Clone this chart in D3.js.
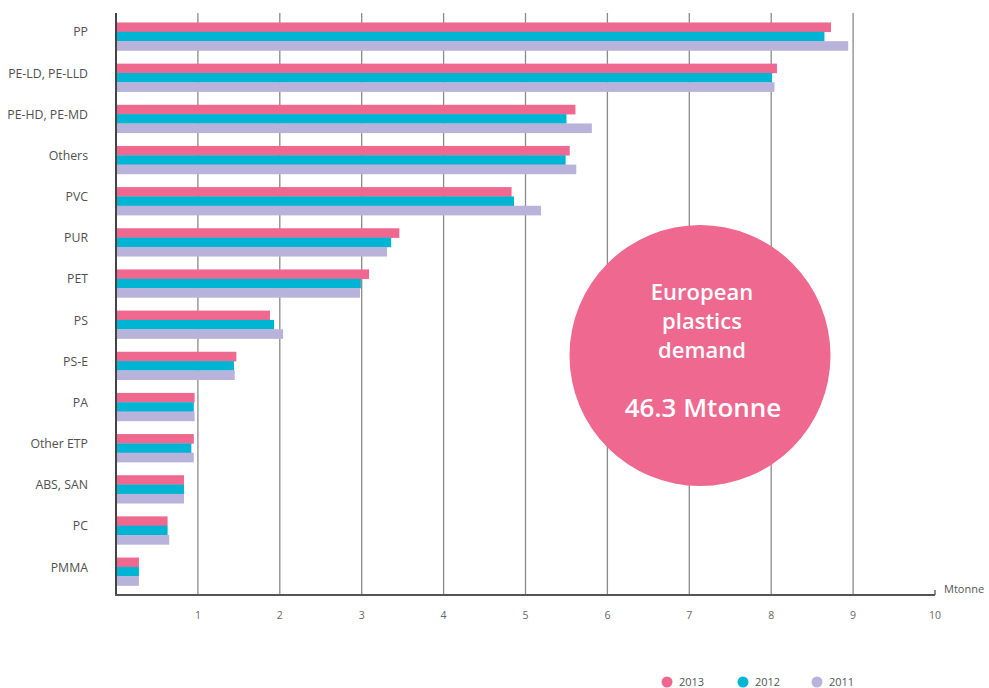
<!DOCTYPE html>
<html>
<head>
<meta charset="utf-8">
<script src="https://cdn.jsdelivr.net/npm/d3@7"></script>
<style>
  html, body { margin: 0; padding: 0; background: #fff; }
  svg { display: block; }
</style>
</head>
<body>
<svg id="chart" width="989" height="688"></svg>
<script>
// European plastics demand by polymer type (Mtonne)
const categories = ["PP", "PE-LD, PE-LLD", "PE-HD, PE-MD", "Others", "PVC", "PUR", "PET",
  "PS", "PS-E", "PA", "Other ETP", "ABS, SAN", "PC", "PMMA"];
const years = ["2013", "2012", "2011"];
const values2013 = [8.73, 8.07, 5.61, 5.54, 4.83, 3.46, 3.09, 1.88, 1.47, 0.96, 0.95, 0.83, 0.63, 0.28];
const values2012 = [8.65, 8.01, 5.50, 5.49, 4.86, 3.36, 2.99, 1.93, 1.44, 0.95, 0.92, 0.83, 0.63, 0.28];
const values2011 = [8.94, 8.04, 5.81, 5.62, 5.19, 3.31, 2.98, 2.04, 1.45, 0.96, 0.95, 0.83, 0.65, 0.28];
const xTicks = [1, 2, 3, 4, 5, 6, 7, 8, 9, 10];
const unitLabel = "Mtonne";
const totalLines = ["European", "plastics", "demand"];
const totalValue = "46.3 Mtonne";

const colors = { "2013": "#ef6890", "2012": "#00b4d3", "2011": "#b9b3dc" };
const series = { "2013": values2013, "2012": values2012, "2011": values2011 };

const svg = d3.select("#chart");
const font = "'Open Sans', 'DejaVu Sans', sans-serif";

const plotLeft = 116, plotRight = 935, plotTop = 13, plotBottom = 595;

const x = d3.scaleLinear().domain([0, 10]).range([plotLeft, plotRight]);
const y = d3.scaleBand().domain(categories).range([plotTop, plotBottom])
  .paddingInner(0.32).paddingOuter(0.23);
const yInner = d3.scaleBand().domain(years).range([0, y.bandwidth()]);

// vertical gridlines
svg.append("g").selectAll("line")
  .data(xTicks.filter(t => t < 10))
  .join("line")
  .attr("x1", d => x(d)).attr("x2", d => x(d))
  .attr("y1", plotTop).attr("y2", plotBottom)
  .attr("stroke", "#8a8a8a").attr("stroke-width", 1.3);

// bars
const groups = svg.append("g").selectAll("g")
  .data(categories)
  .join("g")
  .attr("transform", d => `translate(0,${y(d)})`);

groups.selectAll("rect")
  .data((c, i) => years.map(yr => ({ yr, v: series[yr][i] })))
  .join("rect")
  .attr("x", x(0))
  .attr("y", d => yInner(d.yr))
  .attr("width", d => x(d.v) - x(0))
  .attr("height", yInner.bandwidth() + 0.3)
  .attr("fill", d => colors[d.yr]);

// axis lines
svg.append("line")
  .attr("x1", plotLeft).attr("x2", plotLeft).attr("y1", plotTop).attr("y2", plotBottom + 1)
  .attr("stroke", "#444").attr("stroke-width", 2);
svg.append("line")
  .attr("x1", plotLeft - 1).attr("x2", plotRight).attr("y1", plotBottom).attr("y2", plotBottom)
  .attr("stroke", "#555").attr("stroke-width", 2);
svg.append("line")
  .attr("x1", plotRight).attr("x2", plotRight).attr("y1", plotBottom - 5).attr("y2", plotBottom)
  .attr("stroke", "#555").attr("stroke-width", 1.3);

// x tick labels
svg.append("g").selectAll("text")
  .data(xTicks)
  .join("text")
  .attr("x", d => x(d))
  .attr("y", 619)
  .attr("text-anchor", "middle")
  .attr("font-family", font)
  .attr("font-size", 10.5)
  .attr("fill", "#666")
  .text(d => d);

svg.append("text")
  .attr("x", 944).attr("y", 593)
  .attr("font-family", font).attr("font-size", 11)
  .attr("fill", "#555")
  .text(unitLabel);

// category labels
svg.append("g").selectAll("text")
  .data(categories)
  .join("text")
  .attr("x", 88)
  .attr("y", d => y(d) + y.bandwidth() / 2)
  .attr("text-anchor", "end")
  .attr("font-family", font)
  .attr("font-size", 12.3)
  .attr("fill", "#505050")
  .text(d => d);

// total demand bubble
const cx = 700, cy = 355.5, r = 130.5;
svg.append("circle")
  .attr("cx", cx).attr("cy", cy).attr("r", r)
  .attr("fill", colors["2013"]);

svg.append("g").selectAll("text")
  .data(totalLines)
  .join("text")
  .attr("x", cx + 2)
  .attr("y", (d, i) => 300 + i * 29)
  .attr("text-anchor", "middle")
  .attr("font-family", font)
  .attr("font-size", 22)
  .attr("font-weight", 600)
  .attr("fill", "#fff")
  .text(d => d);

svg.append("text")
  .attr("x", cx + 3).attr("y", 417)
  .attr("text-anchor", "middle")
  .attr("font-family", font)
  .attr("font-size", 26)
  .attr("font-weight", 600)
  .attr("fill", "#fff")
  .text(totalValue);

// legend
const legendX = [667, 743, 817];
const legend = svg.append("g").selectAll("g")
  .data(years)
  .join("g")
  .attr("transform", (d, i) => `translate(${legendX[i]},682)`);
legend.append("circle").attr("r", 5.5).attr("fill", d => colors[d]);
legend.append("text")
  .attr("x", 12).attr("y", 4)
  .attr("font-family", font).attr("font-size", 11)
  .attr("fill", "#555")
  .text(d => d);
</script>
</body>
</html>
